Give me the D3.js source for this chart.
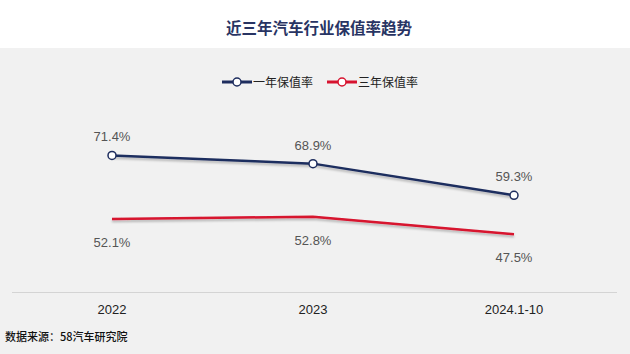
<!DOCTYPE html>
<html>
<head>
<meta charset="utf-8">
<script src="https://cdn.jsdelivr.net/npm/d3@7"></script>
<style>
  body { margin: 0; background: #fff; }
  #chart svg { display: block; font-family: "Noto Sans CJK SC", "Noto Sans", sans-serif; }
</style>
</head>
<body>
<div id="chart"></div>
<script>
// data
const years = ["2022", "2023", "2024.1-10"];
const oneYear = [71.4, 68.9, 59.3];
const threeYear = [52.1, 52.8, 47.5];
const seriesNames = ["一年保值率", "三年保值率"];
const seriesColors = ["#1e2d5e", "#d7132f"];

window.onload = function () {
  const width = 630;
  const height = 354;
  const latin = "'Liberation Sans', Arial, sans-serif";

  const svg = d3
    .select("#chart")
    .append("svg")
    .attr("width", width)
    .attr("height", height);

  // backgrounds
  svg.append("rect").attr("width", width).attr("height", height).attr("fill", "#fff");
  svg.append("rect").attr("y", 48).attr("width", width).attr("height", height - 48).attr("fill", "#f1f1f1");

  // title
  svg
    .append("text")
    .attr("x", 319)
    .attr("y", 34)
    .attr("text-anchor", "middle")
    .attr("font-size", "15.5px")
    .attr("font-weight", "bold")
    .attr("fill", "#283463")
    .text("近三年汽车行业保值率趋势");

  // shadow filter
  const defs = svg.append("defs");
  const filter = defs.append("filter").attr("id", "shadow").attr("height", "200%");
  filter
    .append("feDropShadow")
    .attr("dx", 0)
    .attr("dy", 2)
    .attr("stdDeviation", 1.2)
    .attr("flood-color", "#000")
    .attr("flood-opacity", 0.25);

  // scales
  const xScale = d3.scalePoint().domain(years).range([112, 514]);
  const yScale = d3.scaleLinear().domain([30, 80]).range([292, 127]);

  // x axis
  svg
    .append("line")
    .attr("x1", 12)
    .attr("x2", 617)
    .attr("y1", 292.5)
    .attr("y2", 292.5)
    .attr("stroke", "#d4d4d4")
    .attr("stroke-width", 1);

  svg
    .selectAll(".xLabel")
    .data(years)
    .enter()
    .append("text")
    .attr("x", (d) => xScale(d))
    .attr("y", 314)
    .attr("text-anchor", "middle")
    .attr("font-size", "13px")
    .attr("font-family", latin)
    .attr("fill", "#222")
    .text((d) => d);

  const line = d3
    .line()
    .x((d, i) => xScale(years[i]))
    .y((d) => yScale(d));

  // red line (no markers)
  svg
    .append("path")
    .datum(threeYear)
    .attr("d", line)
    .attr("fill", "none")
    .attr("stroke", seriesColors[1])
    .attr("stroke-width", 2.5)
    .attr("filter", "url(#shadow)");

  // blue line
  svg
    .append("path")
    .datum(oneYear)
    .attr("d", line)
    .attr("fill", "none")
    .attr("stroke", seriesColors[0])
    .attr("stroke-width", 2.5)
    .attr("filter", "url(#shadow)");

  svg
    .selectAll(".dot")
    .data(oneYear)
    .enter()
    .append("circle")
    .attr("cx", (d, i) => xScale(years[i]))
    .attr("cy", (d) => yScale(d))
    .attr("r", 4)
    .attr("fill", "#fff")
    .attr("stroke", seriesColors[0])
    .attr("stroke-width", 1.5);

  // value labels
  svg
    .selectAll(".labelTop")
    .data(oneYear)
    .enter()
    .append("text")
    .attr("x", (d, i) => xScale(years[i]))
    .attr("y", (d) => yScale(d) - 14)
    .attr("text-anchor", "middle")
    .attr("font-size", "13px")
    .attr("font-family", latin)
    .attr("fill", "#555")
    .text((d) => d.toFixed(1) + "%");

  svg
    .selectAll(".labelBottom")
    .data(threeYear)
    .enter()
    .append("text")
    .attr("x", (d, i) => xScale(years[i]))
    .attr("y", (d) => yScale(d) + 28)
    .attr("text-anchor", "middle")
    .attr("font-size", "13px")
    .attr("font-family", latin)
    .attr("fill", "#555")
    .text((d) => d.toFixed(1) + "%");

  // legend
  const legendX = [222, 327];
  seriesNames.forEach((name, i) => {
    const g = svg.append("g").attr("transform", `translate(${legendX[i]}, 82)`);
    g.append("line")
      .attr("x1", 0)
      .attr("x2", 30)
      .attr("stroke", seriesColors[i])
      .attr("stroke-width", 3);
    g.append("circle")
      .attr("cx", 15)
      .attr("r", 4)
      .attr("fill", "#fff")
      .attr("stroke", seriesColors[i])
      .attr("stroke-width", 1.5);
    g.append("text")
      .attr("x", 31)
      .attr("y", 4.5)
      .attr("font-size", "12px")
      .attr("fill", "#222")
      .text(name);
  });

  // source
  svg
    .append("text")
    .attr("x", 5)
    .attr("y", 341)
    .attr("font-size", "11px")
    .attr("font-weight", "500")
    .attr("fill", "#111")
    .text("数据来源：58汽车研究院");
};
</script>
</body>
</html>
